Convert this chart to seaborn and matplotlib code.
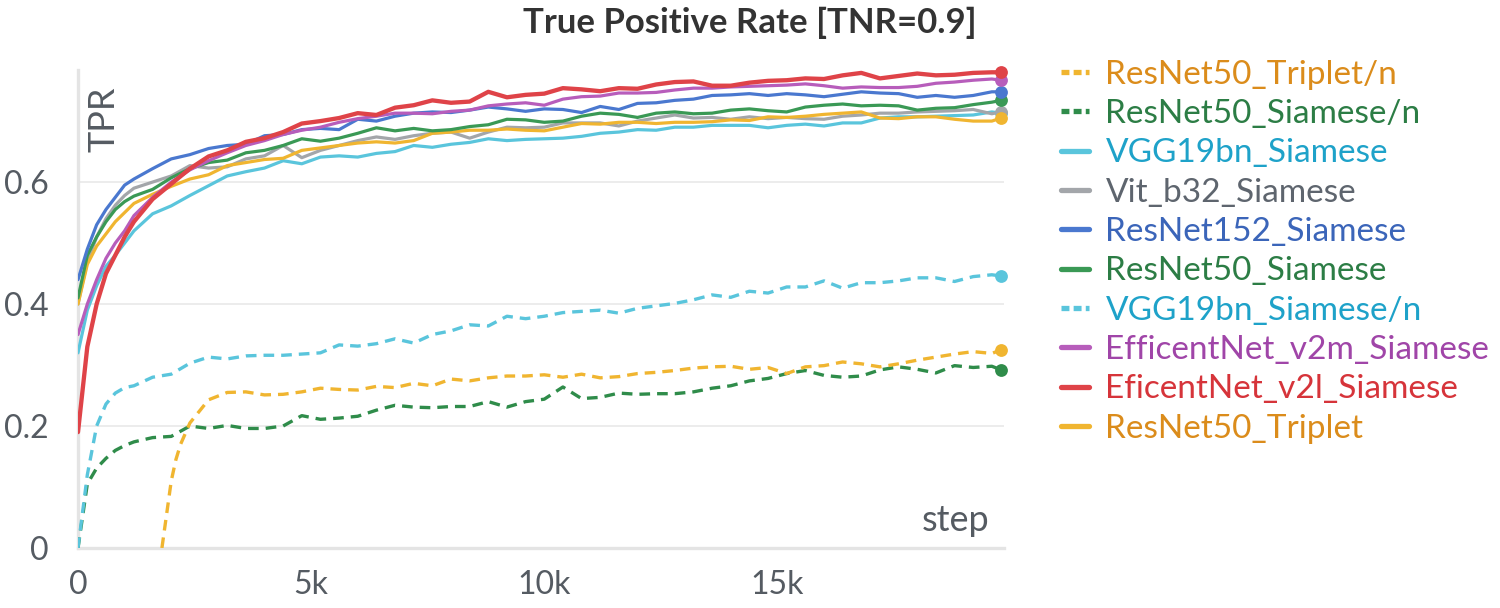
import matplotlib.pyplot as plt
import pandas as pd
import seaborn as sns
from matplotlib.lines import Line2D

# logged steps (every 200 at the start, then every 400)
steps = [0, 200, 400, 600, 800, 1000, 1200] + list(range(1600, 19601, 400)) + [19800]
steps_triplet_n = [1800, 1900, 2000, 2100, 2200] + list(range(2400, 19601, 400)) + [19800]

eficentnet_v2l = [0.19, 0.33, 0.40, 0.45, 0.48, 0.51, 0.535,
                  0.572, 0.597, 0.622, 0.642, 0.652, 0.666, 0.672, 0.682, 0.696, 0.70,
                  0.705, 0.713, 0.71, 0.722, 0.726, 0.734, 0.73, 0.732, 0.748, 0.739,
                  0.743, 0.745, 0.754, 0.752, 0.749, 0.754, 0.753, 0.76, 0.764, 0.765,
                  0.758, 0.758, 0.763, 0.766, 0.767, 0.77, 0.769, 0.775, 0.779, 0.77,
                  0.774, 0.778, 0.775, 0.776, 0.779, 0.78, 0.78]
efficentnet_v2m = [0.35, 0.40, 0.44, 0.475, 0.50, 0.52, 0.545,
                   0.575, 0.60, 0.62, 0.635, 0.648, 0.66, 0.668, 0.678, 0.685, 0.69,
                   0.698, 0.704, 0.708, 0.713, 0.713, 0.712, 0.716, 0.718, 0.725, 0.728,
                   0.73, 0.726, 0.736, 0.74, 0.741, 0.746, 0.746, 0.747, 0.751, 0.754,
                   0.754, 0.756, 0.757, 0.758, 0.759, 0.761, 0.758, 0.754, 0.756, 0.755,
                   0.755, 0.757, 0.762, 0.764, 0.767, 0.769, 0.767]
resnet152 = [0.44, 0.49, 0.53, 0.555, 0.575, 0.595, 0.605,
             0.622, 0.638, 0.645, 0.655, 0.66, 0.662, 0.676, 0.678, 0.686, 0.688,
             0.686, 0.703, 0.70, 0.708, 0.713, 0.715, 0.714, 0.718, 0.723, 0.72,
             0.716, 0.72, 0.719, 0.714, 0.724, 0.719, 0.729, 0.73, 0.734, 0.736,
             0.742, 0.743, 0.745, 0.742, 0.745, 0.743, 0.74, 0.744, 0.748, 0.746,
             0.745, 0.739, 0.742, 0.739, 0.742, 0.748, 0.748]
resnet50_siamese = [0.41, 0.48, 0.51, 0.535, 0.555, 0.568, 0.577,
                    0.588, 0.607, 0.622, 0.632, 0.636, 0.648, 0.652, 0.66, 0.671, 0.667,
                    0.672, 0.68, 0.689, 0.684, 0.688, 0.684, 0.686, 0.691, 0.694, 0.703,
                    0.702, 0.698, 0.70, 0.708, 0.713, 0.711, 0.706, 0.713, 0.715, 0.712,
                    0.713, 0.718, 0.72, 0.717, 0.715, 0.723, 0.726, 0.728, 0.725, 0.726,
                    0.725, 0.718, 0.721, 0.722, 0.727, 0.731, 0.734]
vit_b32 = [0.40, 0.47, 0.51, 0.54, 0.562, 0.578, 0.59,
           0.60, 0.61, 0.627, 0.623, 0.625, 0.638, 0.643, 0.66, 0.64, 0.652,
           0.66, 0.668, 0.674, 0.67, 0.676, 0.68, 0.682, 0.672, 0.682, 0.69,
           0.689, 0.69, 0.697, 0.697, 0.697, 0.692, 0.70, 0.705, 0.71, 0.705,
           0.706, 0.703, 0.707, 0.704, 0.706, 0.704, 0.703, 0.708, 0.71, 0.713,
           0.713, 0.715, 0.716, 0.717, 0.719, 0.712, 0.715]
resnet50_triplet = [0.40, 0.465, 0.495, 0.515, 0.535, 0.55, 0.565,
                    0.58, 0.593, 0.605, 0.612, 0.627, 0.632, 0.637, 0.639, 0.652, 0.656,
                    0.66, 0.664, 0.666, 0.664, 0.668, 0.68, 0.682, 0.685, 0.685, 0.687,
                    0.685, 0.684, 0.69, 0.696, 0.695, 0.698, 0.698, 0.696, 0.698, 0.698,
                    0.699, 0.702, 0.701, 0.707, 0.706, 0.708, 0.711, 0.713, 0.715, 0.705,
                    0.704, 0.707, 0.707, 0.703, 0.70, 0.70, 0.705]
vgg19bn_siamese = [0.32, 0.39, 0.43, 0.462, 0.48, 0.50, 0.52,
                   0.548, 0.561, 0.578, 0.594, 0.61, 0.617, 0.623, 0.635, 0.630, 0.641,
                   0.643, 0.641, 0.647, 0.65, 0.66, 0.657, 0.662, 0.665, 0.671, 0.668,
                   0.67, 0.671, 0.672, 0.675, 0.68, 0.682, 0.686, 0.685, 0.69, 0.69,
                   0.693, 0.693, 0.693, 0.689, 0.693, 0.695, 0.692, 0.697, 0.697, 0.705,
                   0.707, 0.707, 0.708, 0.709, 0.71, 0.715, 0.713]
vgg19bn_siamese_n = [0.0, 0.12, 0.20, 0.236, 0.254, 0.263, 0.266,
                     0.28, 0.285, 0.303, 0.313, 0.31, 0.315, 0.316, 0.316, 0.318, 0.32,
                     0.333, 0.331, 0.335, 0.343, 0.336, 0.35, 0.356, 0.366, 0.364, 0.38,
                     0.376, 0.38, 0.386, 0.388, 0.39, 0.385, 0.393, 0.397, 0.401, 0.407,
                     0.415, 0.411, 0.421, 0.418, 0.428, 0.428, 0.438, 0.426, 0.435, 0.435,
                     0.438, 0.443, 0.443, 0.437, 0.445, 0.448, 0.446]
resnet50_siamese_n = [0.0, 0.105, 0.131, 0.147, 0.16, 0.168, 0.174,
                      0.181, 0.183, 0.2, 0.196, 0.201, 0.196, 0.196, 0.2, 0.217, 0.211,
                      0.213, 0.216, 0.226, 0.234, 0.231, 0.23, 0.232, 0.232, 0.24, 0.231,
                      0.24, 0.244, 0.264, 0.245, 0.247, 0.254, 0.252, 0.253, 0.253, 0.256,
                      0.262, 0.266, 0.274, 0.278, 0.286, 0.291, 0.283, 0.28, 0.282, 0.292,
                      0.297, 0.293, 0.287, 0.299, 0.296, 0.298, 0.292]
resnet50_triplet_n = [0.0, 0.055, 0.11, 0.145, 0.17,
                      0.205, 0.243, 0.255, 0.256, 0.251, 0.252, 0.256, 0.262, 0.26, 0.259,
                      0.265, 0.263, 0.27, 0.266, 0.277, 0.274, 0.279, 0.282, 0.282, 0.284,
                      0.28, 0.285, 0.279, 0.281, 0.286, 0.288, 0.291, 0.295, 0.297, 0.298,
                      0.293, 0.296, 0.286, 0.297, 0.299, 0.305, 0.302, 0.297, 0.302, 0.308,
                      0.313, 0.318, 0.322, 0.319, 0.325]

# legend order
names = ["ResNet50_Triplet/n", "ResNet50_Siamese/n", "VGG19bn_Siamese", "Vit_b32_Siamese",
         "ResNet152_Siamese", "ResNet50_Siamese", "VGG19bn_Siamese/n",
         "EfficentNet_v2m_Siamese", "EficentNet_v2l_Siamese", "ResNet50_Triplet"]
xs = {n: steps for n in names}
xs["ResNet50_Triplet/n"] = steps_triplet_n
ys = {
    "ResNet50_Triplet/n": resnet50_triplet_n,
    "ResNet50_Siamese/n": resnet50_siamese_n,
    "VGG19bn_Siamese": vgg19bn_siamese,
    "Vit_b32_Siamese": vit_b32,
    "ResNet152_Siamese": resnet152,
    "ResNet50_Siamese": resnet50_siamese,
    "VGG19bn_Siamese/n": vgg19bn_siamese_n,
    "EfficentNet_v2m_Siamese": efficentnet_v2m,
    "EficentNet_v2l_Siamese": eficentnet_v2l,
    "ResNet50_Triplet": resnet50_triplet,
}

line_colors = {
    "ResNet50_Triplet/n": "#F0B530",
    "ResNet50_Siamese/n": "#2F8C4A",
    "VGG19bn_Siamese": "#5AC5DC",
    "Vit_b32_Siamese": "#A3A6AA",
    "ResNet152_Siamese": "#4A78CF",
    "ResNet50_Siamese": "#3A9955",
    "VGG19bn_Siamese/n": "#5AC5DC",
    "EfficentNet_v2m_Siamese": "#B75DBB",
    "EficentNet_v2l_Siamese": "#DF4348",
    "ResNet50_Triplet": "#F0B530",
}
text_colors = {
    "ResNet50_Triplet/n": "#DB8C1B",
    "ResNet50_Siamese/n": "#2C7D45",
    "VGG19bn_Siamese": "#1EA2C9",
    "Vit_b32_Siamese": "#5E656E",
    "ResNet152_Siamese": "#3B65B9",
    "ResNet50_Siamese": "#2C7D45",
    "VGG19bn_Siamese/n": "#1EA2C9",
    "EfficentNet_v2m_Siamese": "#A045A8",
    "EficentNet_v2l_Siamese": "#D6343A",
    "ResNet50_Triplet": "#DB8C1B",
}
dashed = {"ResNet50_Triplet/n", "ResNet50_Siamese/n", "VGG19bn_Siamese/n"}

sns.set_theme(style="white")
plt.rcParams["font.family"] = ["Lato", "DejaVu Sans"]

fig = plt.figure(figsize=(15, 6.08), dpi=100)
ax = fig.add_axes([0.052, 0.0987, 0.617, 0.786])

draw_order = ["ResNet50_Siamese/n", "ResNet50_Triplet/n", "VGG19bn_Siamese/n",
              "VGG19bn_Siamese", "Vit_b32_Siamese", "ResNet50_Triplet", "ResNet50_Siamese",
              "ResNet152_Siamese", "EfficentNet_v2m_Siamese", "EficentNet_v2l_Siamese"]
for z, n in enumerate(draw_order):
    df = pd.DataFrame({"step": xs[n], "tpr": ys[n]})
    if n in dashed:
        ls, lw = (0, (3.2, 2.1)), 2.4
    elif n == "EficentNet_v2l_Siamese":
        ls, lw = "-", 3.1
    else:
        ls, lw = "-", 2.3
    sns.lineplot(df, x="step", y="tpr", ax=ax, color=line_colors[n],
                 linewidth=lw, linestyle=ls, errorbar=None, zorder=3 + z)
    ax.scatter(df["step"].iloc[-1], df["tpr"].iloc[-1], s=85, color=line_colors[n],
               zorder=20 + z, clip_on=False, linewidths=0)

ax.set_xlim(0, 19850)
ax.set_ylim(0, 0.7836)
ax.set_xticks([0, 5000, 10000, 15000])
ax.set_xticklabels(["0", "5k", "10k", "15k"])
ax.set_yticks([0, 0.2, 0.4, 0.6])
ax.set_yticklabels(["0", "0.2", "0.4", "0.6"])
ax.set_xlabel("")
ax.set_ylabel("")

for s in ["top", "right"]:
    ax.spines[s].set_visible(False)
for s in ["left", "bottom"]:
    ax.spines[s].set_color("#E4E4E4")
    ax.spines[s].set_linewidth(2.4)
ax.grid(axis="y", color="#EBEBEB", linewidth=1.3)
ax.grid(axis="x", visible=False)
ax.tick_params(axis="x", direction="inout", length=18, width=1.8, color="#E0E0E0",
               pad=7, labelsize=23, labelcolor="#555B62")
ax.tick_params(axis="y", direction="out", length=8, width=1.8, color="#E0E0E0",
               pad=13, labelsize=23, labelcolor="#555B62")

ax.text(0.010, 0.965, "TPR", transform=ax.transAxes, rotation=90, ha="left", va="top",
        fontsize=26, color="#555B62")
ax.text(0.985, 0.036, "step", transform=ax.transAxes, ha="right", va="baseline",
        fontsize=26, color="#555B62")

fig.text(0.5, 0.962, "True Positive Rate [TNR=0.9]", ha="center", va="center",
         fontsize=25, fontweight="bold", color="#333333")

handles = []
for n in names:
    handles.append(Line2D([0], [0], color=line_colors[n], linewidth=3.8,
                          linestyle=(0, (1.5, 0.8)) if n in dashed else "-"))
leg = fig.legend(handles, names, loc="upper left", bbox_to_anchor=(0.707, 0.902),
                 frameon=False, fontsize=24, handlelength=0.85, handletextpad=0.5,
                 labelspacing=0.28, borderaxespad=0, borderpad=0)
for t, n in zip(leg.get_texts(), names):
    t.set_color(text_colors[n])

fig.savefig("out.png", dpi=100)
